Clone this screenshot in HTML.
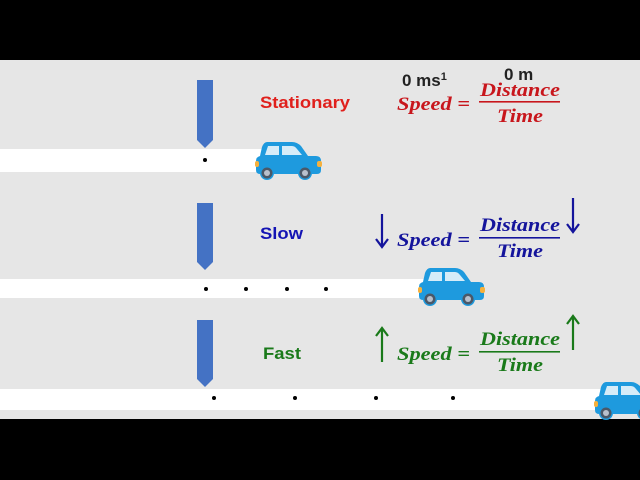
<!DOCTYPE html>
<html><head><meta charset="utf-8"><style>
html,body{margin:0;padding:0;background:#000;}
svg{display:block}
</style></head><body>
<svg width="640" height="480" viewBox="0 0 640 480" xmlns="http://www.w3.org/2000/svg">
<defs>
<g id="car">
  <path d="M11 0 H36 Q41 0 45 4 L52 14 H60 Q65 14 65 19 V28 Q65 32 61 32 H4 Q0 32 0 28 V19 Q0 15 4 14 L6 5 Q8 0 11 0 Z" fill="#1e9ade"/>
  <path d="M12 4 H23 V13 H9 Z" fill="#d6ecf8"/>
  <path d="M26 4 H36 Q39 4 41 7 L46 13 H26 Z" fill="#d6ecf8"/>
  <rect x="61" y="19" width="5" height="6" rx="2" fill="#f5b13d"/>
  <rect x="-1" y="19" width="4" height="6" rx="2" fill="#f5b13d"/>
  <circle cx="11" cy="31" r="7" fill="#1e9ade"/>
  <circle cx="11" cy="31" r="5.5" fill="#4a5868"/>
  <circle cx="11" cy="31" r="3" fill="#b8c0cc"/>
  <circle cx="49" cy="31" r="7" fill="#1e9ade"/>
  <circle cx="49" cy="31" r="5.5" fill="#4a5868"/>
  <circle cx="49" cy="31" r="3" fill="#b8c0cc"/>
</g>
</defs>
<rect x="0" y="0" width="640" height="480" fill="#000"/>
<rect x="0" y="60" width="640" height="359" fill="#e6e6e6"/>

<rect x="0" y="149" width="262" height="23" fill="#fff"/>
<rect x="0" y="279" width="430" height="19" fill="#fff"/>
<rect x="0" y="389" width="605" height="21" fill="#fff"/>

<path d="M197 80 H213 V140 L205 148 L197 140 Z" fill="#4472c4"/>
<path d="M197 203 H213 V262 L205 270 L197 262 Z" fill="#4472c4"/>
<path d="M197 320 H213 V379 L205 387 L197 379 Z" fill="#4472c4"/>

<g fill="#000">
<circle cx="205" cy="160" r="2"/>
<circle cx="206" cy="289" r="2"/><circle cx="246" cy="289" r="2"/><circle cx="287" cy="289" r="2"/><circle cx="326" cy="289" r="2"/>
<circle cx="214" cy="398" r="2"/><circle cx="295" cy="398" r="2"/><circle cx="376" cy="398" r="2"/><circle cx="453" cy="398" r="2"/>
</g>

<use href="#car" x="256" y="142"/>
<use href="#car" x="419" y="268"/>
<use href="#car" x="595" y="382"/>

<g font-family="Liberation Sans, sans-serif" font-weight="bold" font-size="17">
<text x="260" y="108" fill="#e0201c" textLength="90" lengthAdjust="spacingAndGlyphs">Stationary</text>
<text x="260" y="239" fill="#1414b4" textLength="43" lengthAdjust="spacingAndGlyphs">Slow</text>
<text x="263" y="359" fill="#1a7a1a" textLength="38" lengthAdjust="spacingAndGlyphs">Fast</text>
<text x="402" y="86" fill="#222">0 ms<tspan font-size="11" dy="-6">1</tspan></text>
<text x="504" y="80" fill="#222">0 m</text>
</g>

<g font-family="Liberation Serif, serif" font-weight="bold" font-style="italic" font-size="19">
<g fill="#c8161c">
<text x="397" y="110" textLength="73" lengthAdjust="spacingAndGlyphs">Speed =</text>
<text x="480" y="96" textLength="80" lengthAdjust="spacingAndGlyphs">Distance</text>
<text x="497" y="122" textLength="46" lengthAdjust="spacingAndGlyphs">Time</text>
<rect x="479" y="101" width="81" height="1.6"/>
</g>
<g fill="#14149c">
<text x="397" y="246" textLength="73" lengthAdjust="spacingAndGlyphs">Speed =</text>
<text x="480" y="231" textLength="80" lengthAdjust="spacingAndGlyphs">Distance</text>
<text x="497" y="257" textLength="46" lengthAdjust="spacingAndGlyphs">Time</text>
<rect x="479" y="237" width="81" height="1.6"/>
</g>
<g fill="#1a7a1a">
<text x="397" y="360" textLength="73" lengthAdjust="spacingAndGlyphs">Speed =</text>
<text x="480" y="345" textLength="80" lengthAdjust="spacingAndGlyphs">Distance</text>
<text x="497" y="371" textLength="46" lengthAdjust="spacingAndGlyphs">Time</text>
<rect x="479" y="351" width="81" height="1.6"/>
</g>
</g>

<g stroke-width="2.2" fill="none">
<path d="M382 214 V246 M376 239 L382 247 L388 239" stroke="#14149c"/>
<path d="M573 198 V231 M567 224 L573 232 L579 224" stroke="#14149c"/>
<path d="M382 362 V329 M376 336 L382 328 L388 336" stroke="#1a7a1a"/>
<path d="M573 350 V317 M567 324 L573 316 L579 324" stroke="#1a7a1a"/>
</g>
</svg>
</body></html>
